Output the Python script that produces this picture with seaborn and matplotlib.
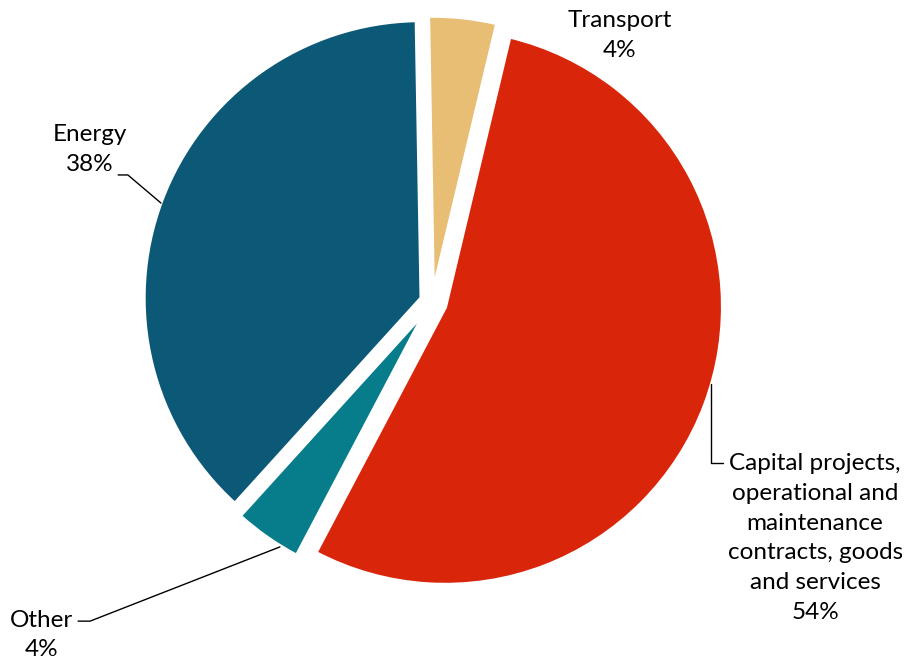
import matplotlib.pyplot as plt
import seaborn as sns

# data, clockwise from the top
labels = ["Transport",
          "Capital projects,\noperational and\nmaintenance\ncontracts, goods\nand services",
          "Other", "Energy"]
shares = [4, 54, 4, 38]
colors = ["#E8BD74", "#D9260A", "#077C8A", "#0B5977"]
explode = [0.03, 0.05, 0.035, 0.04]

sns.set_theme(style="white")
plt.rcParams["font.family"] = ["Lato", "DejaVu Sans"]

fig = plt.figure(figsize=(9.1, 6.68), dpi=100)
ax = fig.add_axes([0, 0, 1, 1])

wedges, _ = ax.pie(
    shares,
    colors=colors,
    explode=explode,
    startangle=91,
    counterclock=False,
    radius=1.0,
    wedgeprops=dict(edgecolor="white", linewidth=3),
)

# 278 px per unit, pie centre at (432, 302) px
ax.set_xlim(-432 / 278, (910 - 432) / 278)
ax.set_ylim(-(668 - 302) / 278, 302 / 278)
ax.set_aspect("auto")
ax.axis("off")

fs = 17.5
tk = dict(ha="center", va="center", fontsize=fs, linespacing=1.52, color="black")
ax.text(0.676, 0.96, f"{labels[0]}\n{shares[0]}%", **tk)
ax.text(1.378, -0.849, f"{labels[1]}\n{shares[1]}%", **tk)
ax.text(-1.403, -1.198, f"{labels[2]}\n{shares[2]}%", **tk)
ax.text(-1.230, 0.550, f"{labels[3]}\n{shares[3]}%", **tk)

# leader lines
lc = dict(color="black", linewidth=1.0)
ax.plot([1.004, 1.004, 1.047], [-0.295, -0.579, -0.579], **lc)
ax.plot([-1.129, -1.094, -0.975], [0.457, 0.457, 0.356], **lc)
ax.plot([-1.273, -1.230, -0.547], [-1.148, -1.148, -0.881], **lc)

fig.savefig("out.png", dpi=100)
